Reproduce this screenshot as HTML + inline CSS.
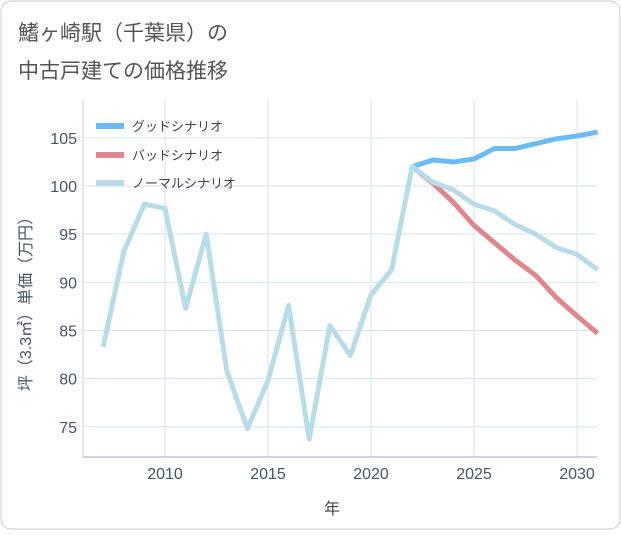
<!DOCTYPE html>
<html><head><meta charset="utf-8"><style>
body{margin:0;background:#fff;font-family:"Liberation Sans","Noto Sans CJK JP",sans-serif}
</style></head><body>
<svg id="c" width="621" height="530" xmlns="http://www.w3.org/2000/svg">
<rect x="1" y="1" width="619" height="528" rx="10" fill="#fff" stroke="#ccc"/>
<text x="18" y="40" font-size="21" fill="#555">鰭ヶ崎駅（千葉県）の</text>
<text x="18" y="78" font-size="21" fill="#555">中古戸建ての価格推移</text>
<g id="grid"></g><g id="series"></g><g id="axes"></g>
<text x="332" y="514" font-size="16" fill="#444" text-anchor="middle">年</text>
<text transform="translate(31,300) rotate(-90)" font-size="16" fill="#456" text-anchor="middle">坪（3.3㎡）単価（万円）</text>
<g>
<line x1="96" y1="126" x2="124" y2="126" stroke="#6bbcf5" stroke-width="6"/>
<text x="132" y="131" font-size="13" fill="#444">グッドシナリオ</text>
<line x1="96" y1="155" x2="124" y2="155" stroke="#e0868e" stroke-width="6"/>
<text x="132" y="160" font-size="13" fill="#444">バッドシナリオ</text>
<line x1="96" y1="183" x2="124" y2="183" stroke="#b8dde9" stroke-width="6"/>
<text x="132" y="188" font-size="13" fill="#444">ノーマルシナリオ</text>
</g>
</svg>
<script>
const years=[2007,2008,2009,2010,2011,2012,2013,2014,2015,2016,2017,2018,2019,2020,2021,2022,2023,2024,2025,2026,2027,2028,2029,2030,2031];
const normal=[83.3,93.2,98.1,97.7,87.3,95.0,80.8,74.8,79.8,87.6,73.7,85.5,82.4,88.7,91.3,102.0,100.4,99.6,98.1,97.4,96.0,95.0,93.6,92.9,91.3];
const goodYears=[2022,2023,2024,2025,2026,2027,2028,2029,2030,2031];
const good=[102.0,102.7,102.5,102.8,103.9,103.9,104.4,104.9,105.2,105.6];
const bad=[102.0,100.3,98.3,95.9,94.1,92.3,90.7,88.4,86.5,84.7];
const xTicks=[2010,2015,2020,2025,2030];
const yTicks=[75,80,85,90,95,100,105];
const L=83,R=597,T=100,B=457;
const x=v=>103.2+(v-2007)*20.6;
const y=v=>186-(v-100)*9.63;
const NS="http://www.w3.org/2000/svg";
function mk(p,t,a){const e=document.createElementNS(NS,t);for(const k in a)e.setAttribute(k,a[k]);p.appendChild(e);return e;}
const g=document.getElementById('grid'),s=document.getElementById('series'),ax=document.getElementById('axes');
for(const t of xTicks){const l=mk(g,'line',{x1:x(t),x2:x(t),y1:T,y2:B,stroke:'#d5e6ee'});


const tx=mk(ax,'text',{x:x(t),y:B+22,'font-size':16,fill:'#456','text-anchor':'middle'});tx.textContent=t;

}
for(const t of yTicks){const l=mk(g,'line',{x1:L,x2:R,y1:y(t),y2:y(t),stroke:'#d5e6ee'});


const tx=mk(ax,'text',{x:L-6,y:y(t)+6,'font-size':16,fill:'#456','text-anchor':'end'});tx.textContent=t;

}
const bl=mk(ax,'line',{x1:L,x2:R,y1:B,y2:B,stroke:'#aab'});


const lyl=mk(ax,'line',{x1:L,x2:L,y1:T,y2:B,stroke:'#ccd'});


function line(xs,vs,c,n){const p=mk(s,'polyline',{points:xs.map((t,i)=>x(t)+','+y(vs[i])).join(' '),fill:'none',stroke:c,'stroke-width':5,'stroke-linejoin':'round'});

}
line(goodYears,good,'#6bbcf5','good-scenario-line');
line(goodYears,bad,'#e0868e','bad-scenario-line');
line(years,normal,'#b8dde9','normal-scenario-line');
</script>
</body></html>
